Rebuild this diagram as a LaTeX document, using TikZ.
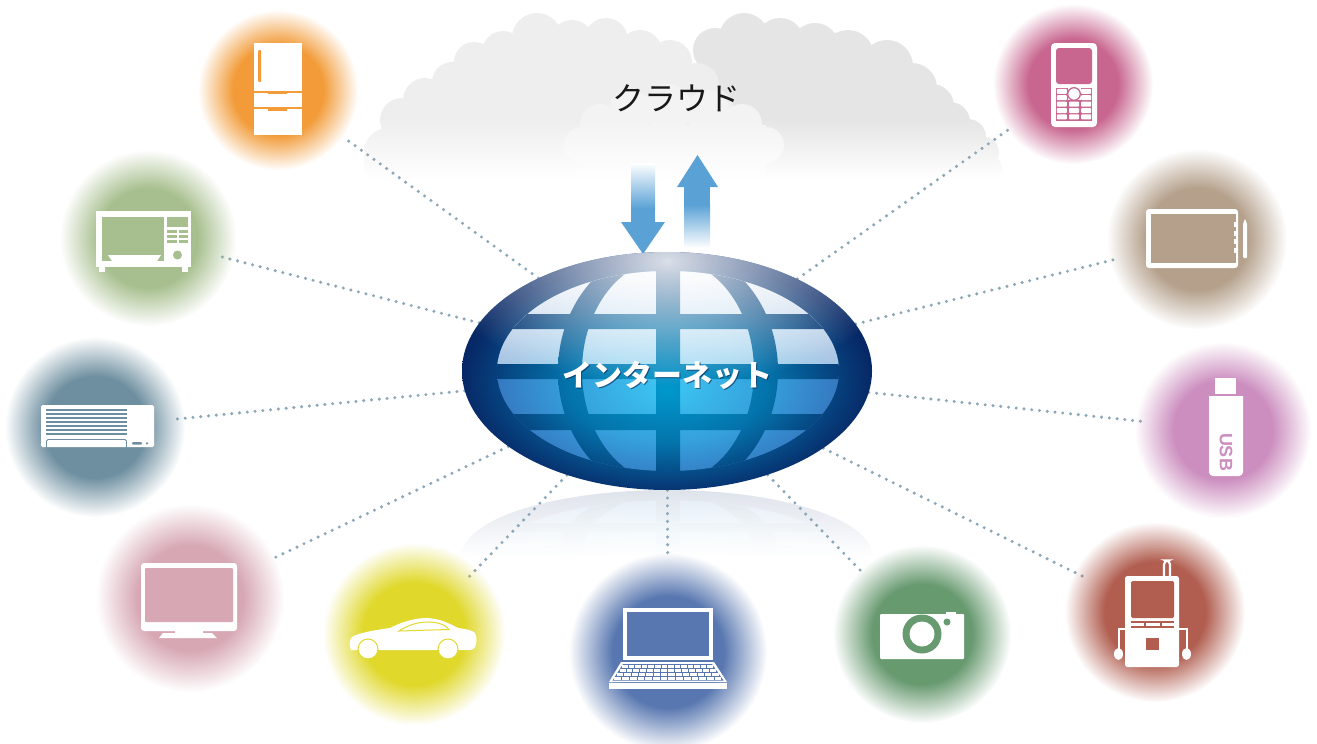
\documentclass[tikz,border=0pt]{standalone}
\usepackage{fontspec}
\newfontfamily\jpfont{Noto Sans CJK JP}
\newfontfamily\usbfont{Liberation Sans}
\usetikzlibrary{shapes.geometric,fadings}

% device colours
\definecolor{cfridge}{HTML}{F29B38}
\definecolor{cmicro}{HTML}{A7BF8E}
\definecolor{cac}{HTML}{6E8FA0}
\definecolor{ctv}{HTML}{D7A8B4}
\definecolor{ccar}{HTML}{E0D82B}
\definecolor{claptop}{HTML}{5877B0}
\definecolor{ccam}{HTML}{689A70}
\definecolor{cplayer}{HTML}{B15E50}
\definecolor{cusb}{HTML}{CC8EBF}
\definecolor{ctab}{HTML}{B4A08B}
\definecolor{cphone}{HTML}{C8668F}
% other colours
\definecolor{cdots}{HTML}{8CA7B7}
\definecolor{arrowblue}{HTML}{5AA2D6}
\definecolor{cloudL}{HTML}{EEEEEE}
\definecolor{cloudR}{HTML}{E5E5E5}
\definecolor{cloudF}{HTML}{F3F3F3}
\definecolor{gb0}{HTML}{0098CC}
\definecolor{gb1}{HTML}{0474AC}
\definecolor{gb2}{HTML}{072866}
\definecolor{gp0}{HTML}{3CC6F2}
\definecolor{gp1}{HTML}{35A0DC}
\definecolor{gp2}{HTML}{3566B4}
\definecolor{navy}{HTML}{062050}

% soft-edged disc behind each device
\pgfdeclareradialshading{discmask}{\pgfpointorigin}{color(0bp)=(white); color(14bp)=(white); color(25bp)=(black); color(50bp)=(black)}
\pgfdeclarefading{softdisc}{\pgfuseshading{discmask}}
% globe shadings
\pgfdeclareradialshading{globeband}{\pgfpoint{0bp}{-4bp}}{color(0bp)=(gb0); color(12bp)=(gb1); color(25bp)=(gb2); color(50bp)=(gb2)}
\pgfdeclareradialshading{globepane}{\pgfpoint{0bp}{-4bp}}{color(0bp)=(gp0); color(12bp)=(gp1); color(25bp)=(gp2); color(50bp)=(gp2)}
\tikzfading[name=fadedown, top color=transparent!100, bottom color=transparent!0]
\tikzfading[name=panegloss, top color=transparent!5, bottom color=transparent!45]
\tikzfading[name=softglow, inner color=transparent!0, outer color=transparent!100]

\tikzset{
  devzone/.style={circle, inner sep=0pt, minimum size=#1},
  dotline/.style={draw=cdots, line width=3.4pt, line cap=round, dash pattern=on 0pt off 7.8pt},
  jplabel/.style={font=\jpfont\fontsize{#1}{#1}\selectfont, inner sep=0pt},
}

% the globe, drawn around the local origin
\newcommand\GlobeArt{%
  \shade[shading=globeband] (0,0) ellipse [x radius=205, y radius=119];
  \begin{scope}
    \clip (1,0) ellipse [x radius=171, y radius=100];
    \shade[shading=globepane] (0,0) ellipse [x radius=205, y radius=119];
    \fill[white, path fading=panegloss] (-205,-101) rectangle (205,-5);
    \begin{scope}
      \clip (-205,-57) rectangle (205,-42) (-205,-7) rectangle (205,8)
            (-205,43) rectangle (205,59) (-11,-120) rectangle (13,120);
      \shade[shading=globeband] (0,0) ellipse [x radius=205, y radius=119];
    \end{scope}
    \begin{scope}[even odd rule]
      \clip (1,0) ellipse [x radius=110, y radius=125]
            (1,0) ellipse [x radius=86, y radius=112];
      \shade[shading=globeband] (0,0) ellipse [x radius=205, y radius=119];
    \end{scope}
  \end{scope}
  \begin{scope}
    \clip (0,0) ellipse [x radius=205, y radius=119];
    \fill[white, fill opacity=0.85, path fading=softglow] (0,-110) ellipse [x radius=235, y radius=125];
  \end{scope}
}

\begin{document}
\begin{tikzpicture}[x=1pt, y=-1pt]
\useasboundingbox (0,0) rectangle (1317,744);

% ---------- cloud ----------
\fill[cloudR] (700,185) -- (700,45) -- (744,20) -- (850,35) -- (935,95) -- (995,160) -- (997,185) -- cycle;
\foreach \cx/\cy/\r in {715/50/22, 744/38/25, 780/42/24, 815/47/24, 848/56/26, 887/66/26, 912/88/25,
                        932/106/22, 950/122/20, 968/137/18, 984/152/15, 990/168/12}
  \fill[cloudR] (\cx,\cy) circle (\r);
\fill[cloudL] (364,185) -- (364,145) -- (420,100) -- (470,55) -- (540,35) -- (640,50) -- (705,80) -- (720,185) -- cycle;
\foreach \cx/\cy/\r in {388/152/24, 402/120/22, 425/100/22, 452/82/20, 474/62/20, 503/52/21,
                        537/38/25, 572/42/22, 606/40/22, 640/52/22, 670/62/22, 697/85/22, 712/110/22}
  \fill[cloudL] (\cx,\cy) circle (\r);
\fill[cloudF] (582,125) rectangle (766,185);
\foreach \cx/\cy/\r in {582/145/18, 600/124/20, 630/112/22, 668/108/24, 708/112/22, 742/124/20, 766/145/18}
  \fill[cloudF] (\cx,\cy) circle (\r);
% cloud base fades into the page
\fill[white, path fading=fadedown] (340,118) rectangle (1010,178);
\fill[white] (340,177.5) rectangle (1010,192);
\node[jplabel=32, text=black!90] (cloudlabel) at (676,98) {クラウド};

% ---------- globe reflection ----------
\begin{scope}[transparency group, opacity=0.13, shift={(667,490)}, yscale=-0.55, shift={(0,-119)}]
  \GlobeArt
\end{scope}
\fill[white, path fading=fadedown] (440,492) rectangle (900,556);
\fill[white] (440,555.5) rectangle (900,625);

% ---------- nodes ----------
\node[ellipse, minimum width=410, minimum height=238, inner sep=0pt] (globe) at (667,371) {};
\node[devzone=160] (fridge) at (278,90) {};
\node[devzone=146] (micro)  at (148,238) {};
\node[devzone=162] (aircon) at (95,427) {};
\node[devzone=184] (tv)     at (190,598) {};
\node[devzone=150] (car)    at (414,634) {};
\node[devzone=194] (laptop) at (668,652) {};
\node[devzone=166] (camera) at (922,634) {};
\node[devzone=158] (player) at (1155,612) {};
\node[devzone=162] (usb)    at (1223,430) {};
\node[devzone=160] (tablet) at (1197,239) {};
\node[devzone=146] (phone)  at (1073,84) {};

% ---------- dotted links ----------
\foreach \d in {fridge,micro,aircon,tv,car,laptop,camera,player,usb,tablet,phone}
  \draw[dotline] (globe) -- (\d);

% ---------- device discs ----------
\foreach \d/\c/\r in {fridge/cfridge/80, micro/cmicro/88, aircon/cac/90, tv/ctv/94, car/ccar/91,
                      laptop/claptop/99, camera/ccam/89, player/cplayer/90, usb/cusb/88,
                      tablet/ctab/90, phone/cphone/80}
  \fill[\c, path fading=softdisc] (\d.center) circle (\r);

% refrigerator
\fill[white] (254,43) rectangle (302,135);
\fill[cfridge] (254,90.5) rectangle (302,92.5);
\fill[cfridge] (254,107.3) rectangle (302,109.3);
\fill[cfridge, rounded corners=1] (258,50) rectangle (261,82);
\fill[cfridge] (268,92.5) rectangle (287,94.3);
\fill[cfridge] (268,109.3) rectangle (287,111.1);

% microwave oven
\fill[white] (96,211) rectangle (191,267);
\fill[white] (99,266) rectangle (105,271.5);
\fill[white] (182,266) rectangle (188,271.5);
\fill[cmicro] (102,217) rectangle (164,261);
\fill[white] (108,255) -- (161,255) -- (157,261) -- (112,261) -- cycle;
\fill[cmicro] (167,217) rectangle (188,227);
\foreach \y in {230,235,240} {
  \fill[cmicro] (167,\y) rectangle (176.5,\y+2.6);
  \fill[cmicro] (178.5,\y) rectangle (188,\y+2.6);
}
\fill[cmicro] (177.5,255) circle (4.5);

% air conditioner
\fill[white, rounded corners=1.5] (41,405) rectangle (154,447);
\foreach \y in {410,414,...,434}
  \fill[cac] (46,\y-0.75) rectangle (127,\y+0.75);
\draw[cac, line width=0.8pt, rounded corners=1.5] (46.5,447.5) -- (46.5,439.5) -- (126.5,439.5) -- (126.5,447.5);
\fill[cac, rounded corners=1] (132,442) rectangle (142,444.6);
\fill[cac] (147,443.3) circle (1.3);

% television
\fill[white, rounded corners=3] (141,563) rectangle (237,631);
\fill[ctv, rounded corners=1] (145,568) rectangle (233,622);
\fill[white] (175,630) rectangle (203,633.5);
\fill[white] (163,633) -- (212,633) -- (217,638) -- (159,638) -- cycle;

% car
\fill[white] (351,650) .. controls (349,646) and (349,640) .. (352,637)
  .. controls (358,633) and (375,630) .. (390,628)
  .. controls (400,623) and (410,619) .. (425,618)
  .. controls (440,618) and (450,624) .. (458,628)
  .. controls (466,629) and (472,630) .. (475,633)
  .. controls (477,637) and (477,643) .. (475,647)
  .. controls (474,649) and (472,650) .. (470,650) -- cycle;
\draw[ccar, line width=1pt] (399,631) .. controls (408,625) and (418,622) .. (428,622)
  .. controls (438,622) and (446,625) .. (449,629.5) -- cycle;
\filldraw[fill=white, draw=ccar, line width=1pt] (368,649) circle (10);
\filldraw[fill=white, draw=ccar, line width=1pt] (448,649) circle (10);

% laptop
\draw[white, line width=4pt] (625,610) rectangle (711,658);
\fill[white] (621,662) -- (714,662) -- (727,682) -- (609,682) -- cycle;
\fill[claptop] (623,664) -- (712,664) -- (723.5,680.5) -- (612.5,680.5) -- cycle;
\foreach \r in {0,...,3} {
  \pgfmathsetmacro\yt{664.6+\r*4}
  \pgfmathsetmacro\ym{\yt+1.6-664}
  \pgfmathsetmacro\xl{623-\ym*10.5/16.5}
  \pgfmathsetmacro\xr{712+\ym*11.5/16.5}
  \pgfmathsetmacro\kw{(\xr-\xl)/14}
  \foreach \k in {0,...,13}
    \fill[white] (\xl+\k*\kw+0.5,\yt) rectangle (\xl+\k*\kw+\kw-0.5,\yt+3.2);
}
\fill[white] (609,683) rectangle (727,689);

% camera
\fill[white, rounded corners=1] (880,614) rectangle (964,659);
\fill[white] (946,611.5) rectangle (956,615);
\fill[ccam] (922,634) circle (19.5);
\fill[white] (922,634) circle (12.5);
\fill[ccam] (947,622) circle (3.5);

% portable music player
\draw[white, line width=2.2pt, rounded corners=4] (1164,578) -- (1164,560.5) -- (1170,560.5) -- (1170,578);
\fill[white, rounded corners=2.5] (1125,576) rectangle (1179,667);
\fill[cplayer, rounded corners=1.5] (1131,581) rectangle (1174,618);
\fill[cplayer] (1131,621) rectangle (1174,622.6);
\fill[cplayer] (1131,626) rectangle (1174,627.6);
\fill[cplayer] (1143.5,622) rectangle (1145.5,626.5);
\fill[cplayer] (1159.5,622) rectangle (1161.5,626.5);
\fill[cplayer] (1146,638) rectangle (1159,650);
\draw[white, line width=2pt] (1126,629) -- (1118.5,629) -- (1118.5,650);
\draw[white, line width=2pt] (1178,629) -- (1186.5,629) -- (1186.5,650);
\fill[white] (1118.5,654) ellipse [x radius=4.5, y radius=6];
\fill[white] (1186.5,654) ellipse [x radius=4.5, y radius=6];

% USB stick
\fill[white] (1215,378) rectangle (1236,394);
\fill[white, rounded corners=4] (1209,410) -- (1209,476) -- (1243,476) -- (1243,410) [sharp corners] -- (1243,396) -- (1209,396) -- cycle;
\node[rotate=-90, text=cusb, font=\usbfont\bfseries\fontsize{18}{18}\selectfont, inner sep=0pt] (usblabel) at (1226,452) {USB};

% pen tablet
\fill[white, rounded corners=3] (1146,209) rectangle (1238,268);
\fill[ctab] (1151,214) rectangle (1236,263);
\foreach \y in {222,230.5,239,247.5}
  \fill[white] (1233.5,\y) rectangle (1235.5,\y+5);
\fill[white, rounded corners=1] (1243,224) -- (1245,218.5) -- (1247,224) -- (1247,258) -- (1243,258) -- cycle;

% mobile phone
\fill[white, rounded corners=4] (1051,43) rectangle (1097,127);
\fill[cphone, rounded corners=3] (1056,48) rectangle (1092,84);
\fill[cphone] (1056,88) rectangle (1092,121);
\foreach \r in {0,...,4} {
  \pgfmathsetmacro\yt{88.8+\r*6.4}
  \fill[white, rounded corners=0.8] (1056.8,\yt) rectangle (1066.8,\yt+5);
  \fill[white, rounded corners=0.8] (1081.2,\yt) rectangle (1091.2,\yt+5);
  \ifnum\r>1
    \fill[white, rounded corners=0.8] (1069,\yt) rectangle (1079,\yt+5);
  \fi
}
\fill[white] (1067.5,88) rectangle (1080.5,100);
\filldraw[fill=white, draw=cphone, line width=1.3pt] (1074,94) circle (6.3);

% ---------- arrows between cloud and globe ----------
\shade[top color=white, bottom color=arrowblue] (631,163) rectangle (655,208.3);
\fill[arrowblue] (631,208) rectangle (655,222.5);
\fill[arrowblue] (621,222) -- (665,222) -- (643,254) -- cycle;
\fill[arrowblue] (677,187) -- (718,187) -- (697.5,155) -- cycle;
\fill[arrowblue] (684,186.5) rectangle (710,205);
\shade[top color=arrowblue, bottom color=white] (684,204.7) rectangle (710,248);

% ---------- globe ----------
\begin{scope}[shift={(globe.center)}]
  \GlobeArt
\end{scope}
\node[jplabel=30, text=navy, text opacity=0.6] at (668.5,376.5) {\bfseries インターネット};
\node[jplabel=30, text=white] (globelabel) at (667,375) {\bfseries インターネット};

\end{tikzpicture}
\end{document}
